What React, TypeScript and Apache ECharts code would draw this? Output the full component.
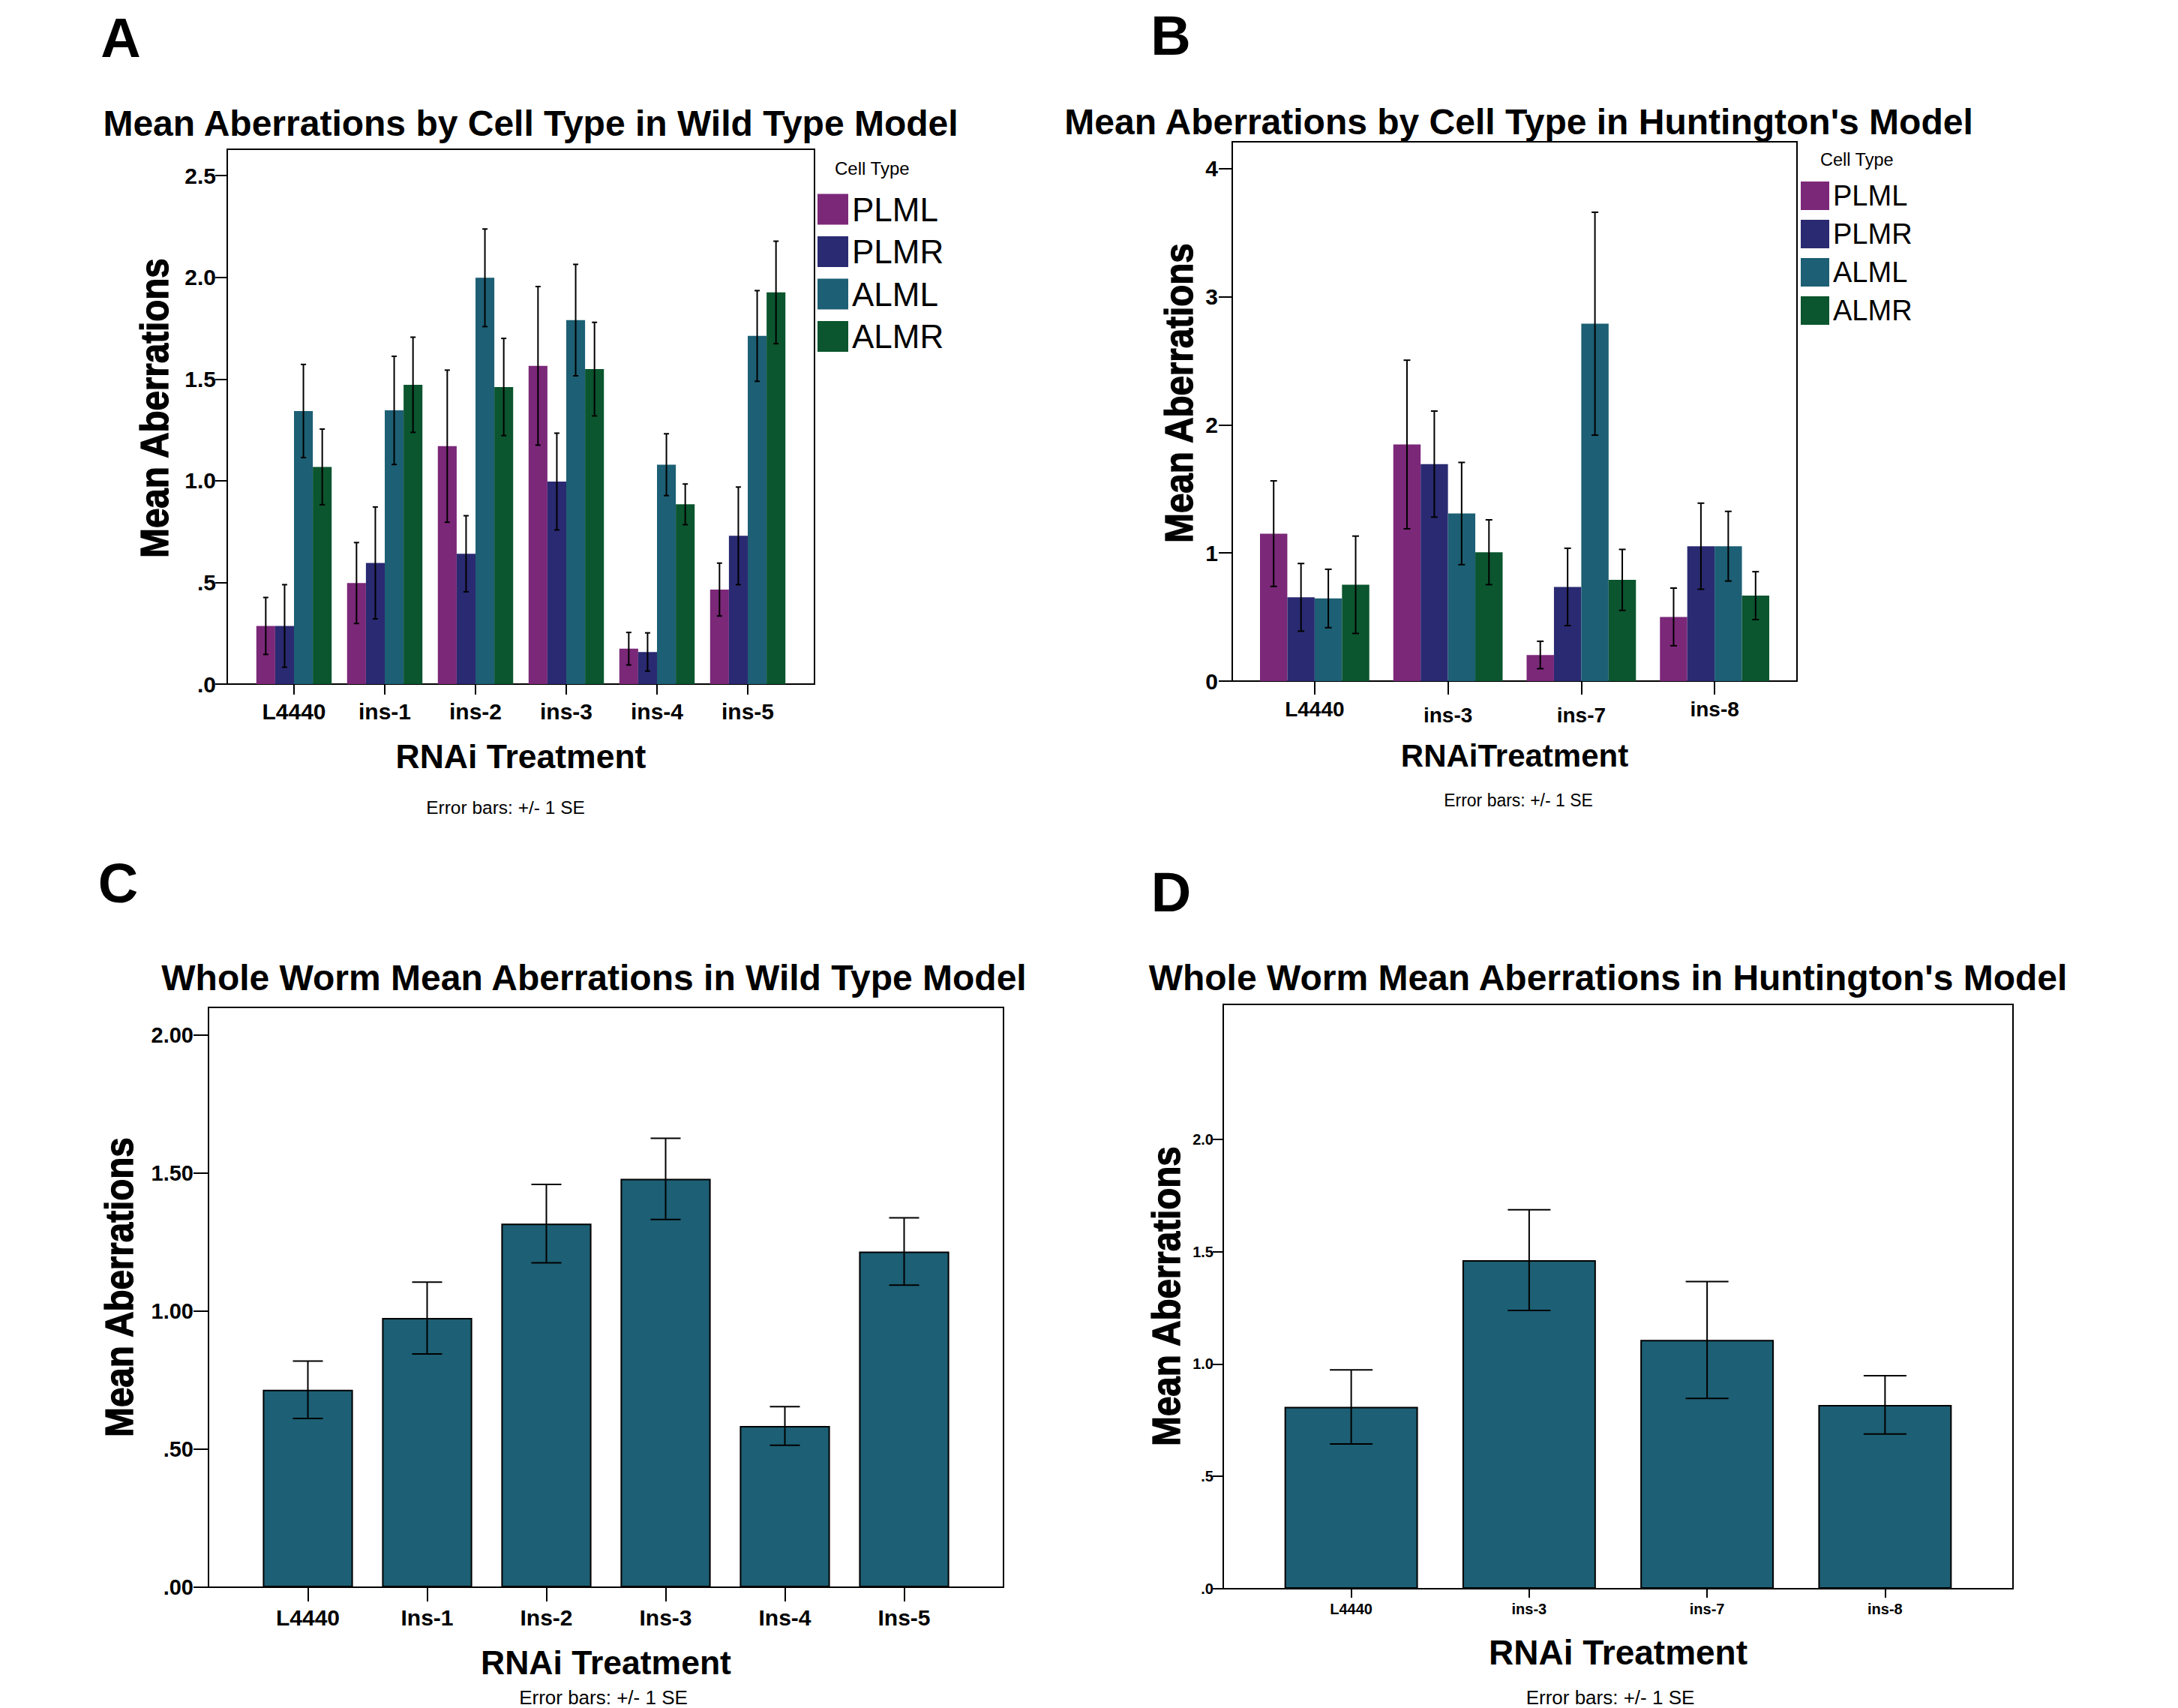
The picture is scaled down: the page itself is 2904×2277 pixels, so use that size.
import React, { useEffect, useRef } from 'react';
import * as echarts from 'echarts';

// ---------- data ----------
const cellTypes = ['PLML', 'PLMR', 'ALML', 'ALMR'];
const cellColors = ['#7B2879', '#2A2A72', '#1D5F74', '#0B552F'];
const wholeColor = '#1D5F74';

// Panel A: wild type, by cell type
const catsA = ['L4440', 'ins-1', 'ins-2', 'ins-3', 'ins-4', 'ins-5'];
const meanA_PLML = [0.286, 0.497, 1.170, 1.565, 0.174, 0.465];
const seA_PLML = [0.14, 0.199, 0.374, 0.39, 0.08, 0.13];
const meanA_PLMR = [0.286, 0.596, 0.641, 0.996, 0.158, 0.729];
const seA_PLMR = [0.203, 0.275, 0.187, 0.238, 0.094, 0.24];
const meanA_ALML = [1.343, 1.346, 1.998, 1.790, 1.079, 1.712];
const seA_ALML = [0.229, 0.266, 0.24, 0.274, 0.152, 0.223];
const meanA_ALMR = [1.068, 1.472, 1.461, 1.549, 0.884, 1.926];
const seA_ALMR = [0.186, 0.234, 0.239, 0.23, 0.1, 0.252];

// Panel B: Huntington's, by cell type
const catsB = ['L4440', 'ins-3', 'ins-7', 'ins-8'];
const meanB_PLML = [1.151, 1.847, 0.204, 0.501];
const seB_PLML = [0.412, 0.658, 0.107, 0.225];
const meanB_PLMR = [0.654, 1.694, 0.735, 1.053];
const seB_PLMR = [0.264, 0.414, 0.302, 0.336];
const meanB_ALML = [0.645, 1.308, 2.790, 1.053];
const seB_ALML = [0.228, 0.399, 0.87, 0.272];
const meanB_ALMR = [0.752, 1.006, 0.790, 0.667];
const seB_ALMR = [0.38, 0.253, 0.238, 0.187];

// Panel C: whole worm, wild type
const catsC = ['L4440', 'Ins-1', 'Ins-2', 'Ins-3', 'Ins-4', 'Ins-5'];
const meanC = [0.715, 0.975, 1.317, 1.479, 0.584, 1.216];
const seC = [0.104, 0.13, 0.142, 0.147, 0.07, 0.122];

// Panel D: whole worm, Huntington's
const catsD = ['L4440', 'ins-3', 'ins-7', 'ins-8'];
const meanD = [0.809, 1.462, 1.107, 0.818];
const seD = [0.165, 0.224, 0.26, 0.13];

// tick values
const ticksA = [0, 0.5, 1, 1.5, 2, 2.5];
const ticksB = [0, 1, 2, 3, 4];
const ticksC = [0, 0.5, 1, 1.5, 2];
const ticksD = [0, 0.5, 1, 1.5, 2];

const FF = "'Liberation Sans', Arial, Helvetica, sans-serif";
const LETTER_FF = "'Liberation Sans', Arial, sans-serif";

const fmt1 = (v: number) => (v === 0 ? '.0' : v < 1 ? '.' + Math.round(v * 10) : v.toFixed(1));
const fmt2 = (v: number) => (v === 0 ? '.00' : v < 1 ? '.' + Math.round(v * 100) : v.toFixed(2));
const fmt0 = (v: number) => String(v);

function frameY(gridIndex: number, max: number, interval: number, ticks: number[], fmt: (v: number) => string, fontSize: number, margin: number, tickLen: number) {
  return {
    gridIndex,
    type: 'value',
    min: 0,
    max,
    interval,
    axisLine: { show: true, lineStyle: { color: '#000', width: 2 } },
    axisTick: { show: true, length: tickLen, lineStyle: { color: '#000', width: 2 }, customValues: ticks },
    axisLabel: {
      show: true,
      customValues: ticks,
      formatter: (v: number) => (ticks.some((t) => Math.abs(t - v) < 1e-9) ? fmt(v) : ''),
      fontSize,
      fontWeight: 'bold',
      fontFamily: FF,
      color: '#000',
      margin,
      padding: [10, 0, 0, 0],
    },
    splitLine: { show: false },
  };
}

function hiddenY(gridIndex: number, max: number) {
  return { gridIndex, type: 'value', min: 0, max, show: false, splitLine: { show: false } };
}

function catX(gridIndex: number, data: string[], fontSize: number, margin: number, tickLen: number, name: string, nameGap: number, nameSize: number, formatter?: any, rich?: any) {
  return {
    gridIndex,
    type: 'category',
    data,
    axisLine: { show: false },
    axisTick: { show: true, alignWithLabel: true, length: tickLen, lineStyle: { color: '#000', width: 2 } },
    axisLabel: {
      interval: 0,
      fontSize,
      fontWeight: 'bold',
      fontFamily: FF,
      color: '#000',
      margin,
      ...(formatter ? { formatter } : {}),
      ...(rich ? { rich } : {}),
    },
    splitLine: { show: false },
    name,
    nameLocation: 'middle',
    nameGap,
    nameTextStyle: { fontSize: nameSize, fontWeight: 'bold', fontFamily: FF, color: '#000' },
  };
}

function errSeries(axisIdx: number, means: number[], ses: number[], j: number, n: number, gap: number, capW: number, lineW: number) {
  return {
    type: 'custom',
    xAxisIndex: axisIdx,
    yAxisIndex: axisIdx,
    silent: true,
    z: 10,
    data: means.map((m, i) => [i, m - ses[i], m + ses[i]]),
    encode: { x: 0, y: [1, 2] },
    renderItem: (params: any, api: any) => {
      const i = api.value(0);
      const lo = api.coord([i, api.value(1)]);
      const hi = api.coord([i, api.value(2)]);
      const band = api.size([1, 0])[0];
      const groupW = band * (1 - gap);
      const barW = groupW / n;
      const x = lo[0] - groupW / 2 + (j + 0.5) * barW;
      const style = { stroke: '#000', lineWidth: lineW };
      return {
        type: 'group',
        children: [
          { type: 'line', shape: { x1: x, y1: hi[1], x2: x, y2: lo[1] }, style },
          { type: 'line', shape: { x1: x - capW / 2, y1: hi[1], x2: x + capW / 2, y2: hi[1] }, style },
          { type: 'line', shape: { x1: x - capW / 2, y1: lo[1], x2: x + capW / 2, y2: lo[1] }, style },
        ],
      };
    },
  };
}

function txt(text: string, x: number, y: number, fontSize: number, opts: any = {}) {
  const align = opts.align || 'center';
  const style: any = {
    text,
    fontSize,
    fontWeight: opts.bold ? 'bold' : 'normal',
    fontFamily: opts.family || FF,
    fill: '#000',
    align,
    verticalAlign: 'middle',
    textAlign: align,
    textVerticalAlign: 'middle',
    lineHeight: opts.lineHeight || fontSize,
  };
  if (opts.heavy) {
    style.stroke = '#000';
    style.lineWidth = opts.heavy;
  }
  return {
    type: 'text',
    x,
    y,
    rotation: opts.rotation || 0,
    scaleY: opts.scaleY || 1,
    silent: true,
    style,
  };
}

function buildOption() {
  const gapA = 0.17;
  const gapB = 0.18;
  const gapC = 0.244;
  const gapD = 0.25;
  const maxA = 2.63;
  const maxB = 4.21;
  const maxC = 2.10;
  const maxD = 2.60;

  const meansA = [meanA_PLML, meanA_PLMR, meanA_ALML, meanA_ALMR];
  const sesA = [seA_PLML, seA_PLMR, seA_ALML, seA_ALMR];
  const meansB = [meanB_PLML, meanB_PLMR, meanB_ALML, meanB_ALMR];
  const sesB = [seB_PLML, seB_PLMR, seB_ALML, seB_ALMR];

  const frameGrid = (left: number, top: number, width: number, height: number) => ({
    left, top, width, height, show: true, borderColor: '#000', borderWidth: 2, backgroundColor: 'transparent', containLabel: false, outerBoundsMode: 'none',
  });
  const barGrid = (left: number, top: number, width: number, height: number) => ({
    left, top, width, height, show: false, containLabel: false, outerBoundsMode: 'none',
  });

  const richB = {
    n: { fontSize: 28, fontWeight: 'bold', fontFamily: FF, color: '#000' },
    lo: { fontSize: 28, fontWeight: 'bold', fontFamily: FF, color: '#000', padding: [8, 0, 0, 0] },
  };
  const fmtB = (v: string, i: number) => (i === 1 || i === 2 ? '{lo|' + v + '}' : '{n|' + v + '}');

  const series: any[] = [];
  cellTypes.forEach((ct, j) => {
    series.push({
      type: 'bar', name: ct, xAxisIndex: 1, yAxisIndex: 1, data: meansA[j],
      barGap: '0%', barCategoryGap: gapA * 100 + '%', itemStyle: { color: cellColors[j] }, silent: true,
    });
  });
  cellTypes.forEach((ct, j) => series.push(errSeries(1, meansA[j], sesA[j], j, 4, gapA, 7, 2)));
  cellTypes.forEach((ct, j) => {
    series.push({
      type: 'bar', name: ct, xAxisIndex: 3, yAxisIndex: 3, data: meansB[j],
      barGap: '0%', barCategoryGap: gapB * 100 + '%', itemStyle: { color: cellColors[j] }, silent: true,
    });
  });
  cellTypes.forEach((ct, j) => series.push(errSeries(3, meansB[j], sesB[j], j, 4, gapB, 9, 2)));
  series.push({
    type: 'bar', name: 'Whole worm WT', xAxisIndex: 5, yAxisIndex: 5, data: meanC,
    barCategoryGap: gapC * 100 + '%', itemStyle: { color: wholeColor, borderColor: '#000', borderWidth: 2 }, silent: true,
  });
  series.push(errSeries(5, meanC, seC, 0, 1, gapC, 40, 2));
  series.push({
    type: 'bar', name: 'Whole worm HD', xAxisIndex: 7, yAxisIndex: 7, data: meanD,
    barCategoryGap: gapD * 100 + '%', itemStyle: { color: wholeColor, borderColor: '#000', borderWidth: 2 }, silent: true,
  });
  series.push(errSeries(7, meanD, seD, 0, 1, gapD, 57, 2));

  const yTitle = { bold: true, rotation: Math.PI / 2, scaleY: 1.08, heavy: 1.2 };

  return {
    animation: false,
    backgroundColor: '#fff',
    grid: [
      frameGrid(303, 199, 783, 713),
      barGrid(331.5, 199, 726, 713),
      frameGrid(1643, 189, 753, 719),
      barGrid(1664, 189, 711, 719),
      frameGrid(278, 1343, 1060, 773),
      barGrid(331, 1343, 954, 773),
      frameGrid(1631, 1339, 1053, 779),
      barGrid(1683, 1339, 949, 779),
    ],
    xAxis: [
      { gridIndex: 0, type: 'value', show: false, min: 0, max: 1 },
      catX(1, catsA, 30, 21, 14, 'RNAi Treatment', 74, 44.5),
      { gridIndex: 2, type: 'value', show: false, min: 0, max: 1 },
      catX(3, catsB, 28, 23, 18, 'RNAiTreatment', 78, 42, fmtB, richB),
      { gridIndex: 4, type: 'value', show: false, min: 0, max: 1 },
      catX(5, catsC, 30, 25, 19, 'RNAi Treatment', 78, 44.5),
      { gridIndex: 6, type: 'value', show: false, min: 0, max: 1 },
      catX(7, catsD, 20, 17, 12, 'RNAi Treatment', 62, 46),
    ],
    yAxis: [
      frameY(0, maxA, 0.5, ticksA, fmt1, 30, 15, 16),
      hiddenY(1, maxA),
      frameY(2, maxB, 1, ticksB, fmt0, 30, 19, 18),
      hiddenY(3, maxB),
      frameY(4, maxC, 0.5, ticksC, fmt2, 29, 20, 20),
      hiddenY(5, maxC),
      frameY(6, maxD, 0.5, ticksD, fmt1, 20, 13, 14),
      hiddenY(7, maxD),
    ],
    legend: [
      {
        left: 1090, top: 257, orient: 'vertical', padding: 0, icon: 'rect',
        itemWidth: 41, itemHeight: 41, itemGap: 12.5, selectedMode: false, data: cellTypes,
        textStyle: { fontSize: 44, color: '#000', fontFamily: FF },
      },
      {
        left: 2401, top: 242, orient: 'vertical', padding: 0, icon: 'rect',
        itemWidth: 38, itemHeight: 38, itemGap: 13, selectedMode: false, data: cellTypes,
        textStyle: { fontSize: 38, color: '#000', fontFamily: FF },
      },
    ],
    graphic: [
      txt('A', 161, 50, 74, { bold: true, family: LETTER_FF }),
      txt('B', 1561, 47, 74, { bold: true, family: LETTER_FF }),
      txt('C', 157.5, 1177, 74, { bold: true, family: LETTER_FF }),
      txt('D', 1561.5, 1189.5, 74, { bold: true, family: LETTER_FF }),
      txt('Mean Aberrations by Cell Type in Wild Type Model', 707.5, 164, 48, { bold: true }),
      txt("Mean Aberrations by Cell Type in Huntington's Model", 2025, 162, 48, { bold: true }),
      txt('Whole Worm Mean Aberrations in Wild Type Model', 792, 1303, 48, { bold: true }),
      txt("Whole Worm Mean Aberrations in Huntington's Model", 2144, 1303, 48, { bold: true }),
      txt('Mean Aberrations', 206, 544, 47.5, yTitle),
      txt('Mean Aberrations', 1571.5, 524, 47.5, yTitle),
      txt('Mean Aberrations', 159, 1716, 47.5, yTitle),
      txt('Mean Aberrations', 1555, 1728, 47.5, yTitle),
      txt('Error bars: +/- 1 SE', 674, 1076, 24.5),
      txt('Error bars: +/- 1 SE', 2024.5, 1067, 23),
      txt('Error bars: +/- 1 SE', 804.5, 2263, 26),
      txt('Error bars: +/- 1 SE', 2147, 2263, 26),
      txt('Cell Type', 1113, 224, 24, { align: 'left' }),
      txt('Cell Type', 2427, 213, 23.5, { align: 'left' }),
    ],
    series,
  };
}

export default function App() {
  const ref = useRef<HTMLDivElement>(null);
  useEffect(() => {
    if (!ref.current) return;
    const chart = echarts.init(ref.current, null, { renderer: 'svg', width: 2904, height: 2277 });
    chart.setOption(buildOption() as any);
    return () => chart.dispose();
  }, []);
  return (
    <div
      ref={ref}
      style={{ position: 'fixed', left: 0, top: 0, width: 2904, height: 2277, background: '#fff' }}
    />
  );
}
